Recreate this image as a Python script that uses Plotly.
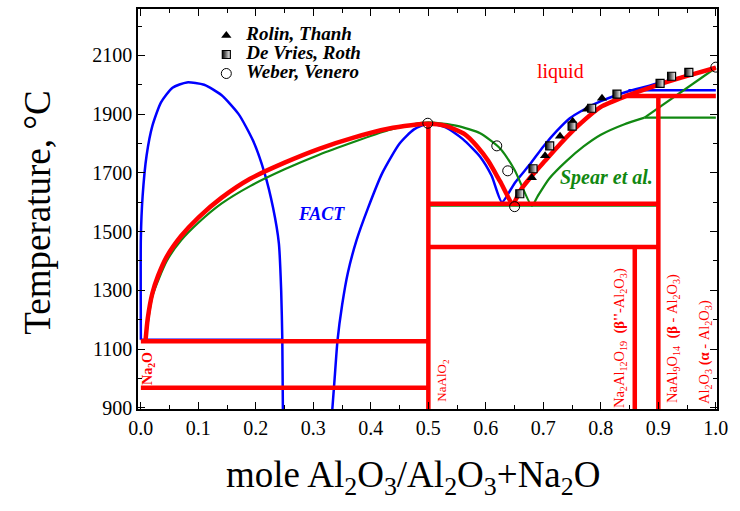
import plotly.graph_objects as go

# ---------------- data ----------------
# red liquidus (this work)
red_liq_x = [0.008, 0.012, 0.02, 0.03, 0.045, 0.07, 0.10, 0.14, 0.19, 0.25, 0.31, 0.37, 0.43, 0.47, 0.50,
             0.53, 0.563, 0.585, 0.604, 0.625, 0.647,
             0.66, 0.68, 0.703, 0.73, 0.76, 0.80, 0.843, 0.90, 0.95, 1.00]
red_liq_y = [1127, 1205, 1290, 1350, 1415, 1485, 1548, 1615, 1680, 1735, 1782, 1820, 1850, 1862, 1867,
             1860, 1832, 1790, 1741, 1670, 1595,
             1640, 1690, 1741, 1800, 1860, 1925, 1961, 2000, 2030, 2058]

# red invariant / compound lines: (x0, x1, y0, y1)
red_seg_x0 = [0.0, 0.0, 0.5, 0.5, 0.5, 0.859, 0.9, 0.843]
red_seg_x1 = [0.5, 0.5, 0.9, 0.9, 0.5, 0.859, 0.9, 1.0]
red_seg_y0 = [1127, 968, 1595, 1448, 896, 896, 896, 1962]
red_seg_y1 = [1127, 968, 1595, 1448, 1867, 1448, 1962, 1962]

# FACT (blue)
blue_dome_x = [0.0, 0.0, 0.003, 0.01, 0.02, 0.035, 0.055, 0.08, 0.11, 0.14, 0.17, 0.195, 0.215, 0.23, 0.24, 0.244, 0.246, 0.247]
blue_dome_y = [1132, 1480, 1620, 1760, 1860, 1940, 1990, 2008, 2000, 1965, 1900, 1810, 1700, 1580, 1460, 1300, 1130, 896]
blue_liq_x = [0.333, 0.337, 0.342, 0.35, 0.36, 0.375, 0.395, 0.42, 0.45, 0.475, 0.50,
              0.53, 0.56, 0.59, 0.61, 0.628,
              0.65, 0.677, 0.70, 0.723, 0.746, 0.77, 0.80, 0.848, 0.90, 0.95, 1.00]
blue_liq_y = [896, 1000, 1130, 1250, 1360, 1470, 1580, 1700, 1800, 1848, 1868,
              1855, 1815, 1755, 1690, 1600,
              1665, 1730, 1790, 1842, 1886, 1915, 1944, 1978, 2005, 2032, 2058]
blue_seg_x0 = [0.0, 0.848]
blue_seg_x1 = [0.245, 1.0]
blue_seg_y = [1132, 1981]

# Spear et al. (green)
green_liq_x = [0.008, 0.02, 0.045, 0.07, 0.10, 0.14, 0.19, 0.25, 0.31, 0.37, 0.43, 0.47, 0.50,
               0.55, 0.59, 0.624, 0.65, 0.68,
               0.69, 0.71, 0.74, 0.77, 0.80, 0.84, 0.876]
green_liq_y = [1127, 1280, 1400, 1470, 1530, 1595, 1655, 1712, 1762, 1805, 1845, 1864, 1872,
               1860, 1835, 1785, 1710, 1588,
               1620, 1680, 1740, 1790, 1830, 1865, 1888]
green_seg_x0 = [0.5, 0.876, 0.876]
green_seg_x1 = [0.9, 1.0, 1.0]
green_seg_y0 = [1588, 1888, 1888]
green_seg_y1 = [1588, 1888, 2058]

# experimental points
rolin_x = [0.680, 0.703, 0.729, 0.751, 0.776, 0.802]
rolin_y = [1683, 1758, 1825, 1876, 1917, 1954]
devries_x = [0.659, 0.682, 0.711, 0.750, 0.784, 0.828, 0.903, 0.923, 0.953]
devries_y = [1629, 1714, 1792, 1859, 1920, 1968, 2005, 2029, 2042]
weber_x = [0.499, 0.619, 0.638, 0.650, 1.000]
weber_y = [1869, 1792, 1707, 1585, 2060]

x_ticks = [0.0, 0.1, 0.2, 0.3, 0.4, 0.5, 0.6, 0.7, 0.8, 0.9, 1.0]
y_ticks = [900, 1100, 1300, 1500, 1700, 1900, 2100]

RED = "#ff0000"
BLUE = "#0000ff"
GREEN = "#118811"
FONT = "Liberation Serif"

fig = go.Figure()


def seg_trace(x0s, x1s, y0s, y1s, color, width):
    xs, ys = [], []
    for a, b, c, d in zip(x0s, x1s, y0s, y1s):
        xs += [a, b, None]
        ys += [c, d, None]
    return go.Scatter(x=xs, y=ys, mode="lines", line=dict(color=color, width=width),
                      showlegend=False, hoverinfo="skip")


# blue
fig.add_trace(go.Scatter(x=blue_dome_x, y=blue_dome_y, mode="lines", line=dict(color=BLUE, width=2.5, shape="spline", smoothing=0.6), showlegend=False))
fig.add_trace(go.Scatter(x=blue_liq_x, y=blue_liq_y, mode="lines", line=dict(color=BLUE, width=2.5, shape="spline", smoothing=0.6), showlegend=False))
fig.add_trace(seg_trace(blue_seg_x0, blue_seg_x1, blue_seg_y, blue_seg_y, BLUE, 2.5))
# green
fig.add_trace(go.Scatter(x=green_liq_x, y=green_liq_y, mode="lines", line=dict(color=GREEN, width=2.2, shape="spline", smoothing=0.6), showlegend=False))
fig.add_trace(seg_trace(green_seg_x0, green_seg_x1, green_seg_y0, green_seg_y1, GREEN, 2.2))
# red
fig.add_trace(seg_trace(red_seg_x0, red_seg_x1, red_seg_y0, red_seg_y1, RED, 4.5))
fig.add_trace(go.Scatter(x=red_liq_x, y=red_liq_y, mode="lines", line=dict(color=RED, width=4.5, shape="spline", smoothing=0.6), showlegend=False))

LEG = '<span style="font-size:19px"><b><i>%s</i></b></span>'
# points
fig.add_trace(go.Scatter(x=rolin_x, y=rolin_y, mode="markers", name=LEG % "Rolin, Thanh",
                         marker=dict(symbol="triangle-up", size=9, color="black")))
fig.add_trace(go.Scatter(x=devries_x, y=devries_y, mode="markers", name=LEG % "De Vries, Roth",
                         marker=dict(symbol="square", size=8, color="black",
                                     gradient=dict(type="horizontal", color="white"),
                                     line=dict(color="black", width=1.2))))
fig.add_trace(go.Scatter(x=weber_x, y=weber_y, mode="markers", name=LEG % "Weber, Venero",
                         marker=dict(symbol="circle-open", size=10, color="black", line=dict(width=1))))

ann = []
def add_text(x, y, text, color, size, angle=0):
    ann.append(dict(x=x, y=y, xref="x", yref="y", text=text, showarrow=False, xanchor="center", yanchor="middle",
                    font=dict(family=FONT, size=size, color=color), textangle=angle))

add_text(0.729, 2046, "liquid", RED, 20)
add_text(0.315, 1561, "<b><i>FACT</i></b>", BLUE, 18)
add_text(0.809, 1683, "<b><i>Spear et al.</i></b>", GREEN, 20)
add_text(0.012, 1035, "<b>Na<sub>2</sub>O</b>", RED, 14, -90)
add_text(0.525, 995, "NaAlO<sub>2</sub>", RED, 13, -90)
add_text(0.833, 1137, "Na<sub>2</sub>Al<sub>12</sub>O<sub>19</sub>  <b>(β''</b>-Al<sub>2</sub>O<sub>3</sub>)", RED, 14.5, -90)
add_text(0.925, 1137, "NaAl<sub>9</sub>O<sub>14</sub>  <b>(β</b> - Al<sub>2</sub>O<sub>3</sub>)", RED, 14.5, -90)
add_text(0.981, 1090, "Al<sub>2</sub>O<sub>3</sub> <b>(α</b> - Al<sub>2</sub>O<sub>3</sub>)", RED, 14.5, -90)

# axis titles
ann.append(dict(x=-0.175, y=0.49, xref="paper", yref="paper", text="Temperature, °C", showarrow=False,
                textangle=-90, xanchor="center", yanchor="middle", font=dict(family=FONT, size=37, color="black")))
ann.append(dict(x=0.475, y=-0.17, xref="paper", yref="paper",
                text="mole Al<sub>2</sub>O<sub>3</sub>/Al<sub>2</sub>O<sub>3</sub>+Na<sub>2</sub>O",
                showarrow=False, font=dict(family=FONT, size=37, color="black"), xanchor="center", yanchor="middle"))

axis_common = dict(showline=True, linecolor="black", linewidth=1.5, mirror="ticks",
                   ticks="inside", ticklen=7, tickwidth=1.2, tickcolor="black",
                   showgrid=False, zeroline=False,
                   tickfont=dict(family=FONT, size=20, color="black"))

fig.update_layout(
    width=740, height=511,
    margin=dict(l=138, r=23, t=7, b=102),
    paper_bgcolor="white", plot_bgcolor="white",
    xaxis=dict(range=[-0.005, 1.002], tickvals=x_ticks, ticktext=[f"{v:.1f}" for v in x_ticks],
               minor=dict(ticks="inside", ticklen=4, dtick=0.05, tick0=0, tickcolor="black", showgrid=False),
               **axis_common),
    yaxis=dict(range=[896, 2258], tickvals=y_ticks, ticktext=[str(v) for v in y_ticks],
               minor=dict(ticks="inside", ticklen=4, dtick=100, tick0=900, tickcolor="black", showgrid=False),
               **axis_common),
    legend=dict(x=0.118, y=0.97, xanchor="left", yanchor="top", bgcolor="rgba(0,0,0,0)",
                font=dict(family=FONT, size=11, color="black"), itemwidth=30, tracegroupgap=0),
    annotations=ann,
    font=dict(family=FONT),
)

fig.write_html("out.html", config={"displayModeBar": False},
               post_script="document.body.style.margin='0';document.body.style.overflow='hidden';")
